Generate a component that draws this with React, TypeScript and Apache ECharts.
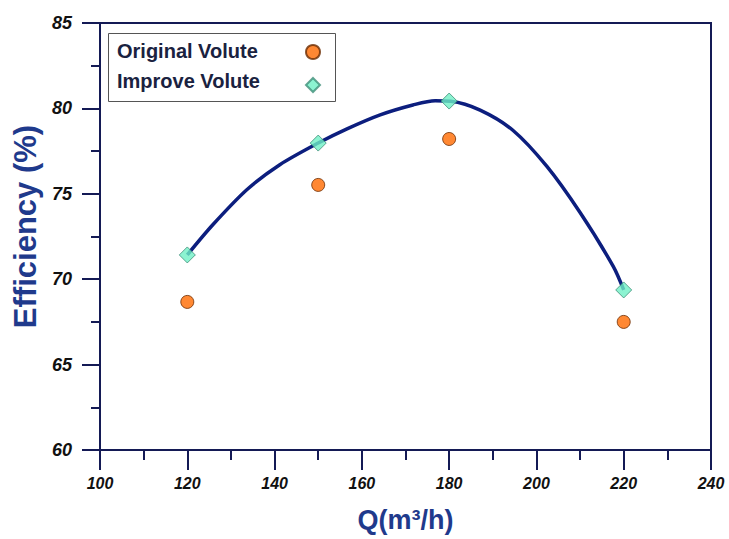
import React, { useEffect, useRef } from "react";
import * as echarts from "echarts";

const flowQ = [120, 150, 180, 220];
const originalEff = [68.67, 75.52, 78.21, 67.5];
const improveEff = [71.42, 77.97, 80.43, 69.37];
// fitted curve through Improve Volute
const curveQ = [120, 125.9, 133.7, 141.2, 150, 156.6, 164.2, 171.7, 176.8, 180.4, 187.1, 194.6, 202.4, 210, 217.6, 220];
const curveEff = [71.42, 73.2, 75.25, 76.7, 77.97, 78.8, 79.62, 80.2, 80.45, 80.42, 79.9, 78.72, 76.6, 73.9, 70.75, 69.37];
const seriesNames = ["Original Volute", "Improve Volute"];
const xTicks = { min: 100, max: 240, step: 20 };
const yTicks = { min: 60, max: 85, step: 5 };

const NAVY = "#141a55";
const NAME_BLUE = "#1f3a8c";

export default function App() {
  const ref = useRef<HTMLDivElement>(null);
  useEffect(() => {
    const chart = echarts.init(ref.current!, undefined, { renderer: "svg" });
    chart.setOption({
      animation: false,
      backgroundColor: "#ffffff",
      grid: {
        left: 100,
        right: 18,
        top: 23,
        bottom: 89,
        show: true,
        borderColor: NAVY,
        borderWidth: 2,
        backgroundColor: "transparent",
      },
      graphic: [
        {
          type: "rect",
          z: 3,
          shape: { x: 108.5, y: 33.5, width: 227, height: 68 },
          style: { fill: "#ffffff", stroke: "#555555", lineWidth: 1 },
        },
      ],
      legend: [
        {
          data: seriesNames,
          orient: "vertical",
          left: 111,
          top: 40,
          icon: "none",
          itemWidth: 1,
          itemHeight: 22,
          itemGap: 9,
          padding: 0,
          z: 6,
          textStyle: {
            fontFamily: "Liberation Sans, Arial, sans-serif",
            fontWeight: "bold",
            fontSize: 20,
            color: "#1a2240",
          },
        },
        {
          data: seriesNames,
          orient: "vertical",
          left: 305,
          top: 44,
          itemWidth: 14,
          itemHeight: 14,
          itemGap: 17,
          padding: 0,
          z: 6,
          formatter: () => "",
        },
      ],
      xAxis: {
        type: "value",
        min: xTicks.min,
        max: xTicks.max,
        interval: xTicks.step,
        name: "Q(m³/h)",
        nameLocation: "middle",
        nameGap: 56,
        nameTextStyle: {
          fontFamily: "Liberation Sans, Arial, sans-serif",
          fontWeight: "bold",
          fontSize: 27,
          color: NAME_BLUE,
        },
        axisLine: { show: true, lineStyle: { color: NAVY, width: 2 } },
        axisTick: { show: true, inside: false, length: 20, lineStyle: { color: NAVY, width: 2 } },
        minorTick: { show: true, splitNumber: 2, length: 10, lineStyle: { color: NAVY, width: 2 } },
        axisLabel: {
          margin: 25,
          fontFamily: "Liberation Sans Narrow, Arial Narrow, Liberation Sans, sans-serif",
          fontWeight: "bold",
          fontStyle: "italic",
          fontSize: 16,
          color: "#111111",
        },
        splitLine: { show: false },
      },
      yAxis: {
        type: "value",
        min: yTicks.min,
        max: yTicks.max,
        interval: yTicks.step,
        name: "Efficiency (%)",
        nameLocation: "middle",
        nameGap: 58,
        nameTextStyle: {
          fontFamily: "Liberation Sans, Arial, sans-serif",
          fontWeight: "bold",
          fontSize: 31,
          color: NAME_BLUE,
          padding: [0, 0, 0, 20],
        },
        axisLine: { show: true, lineStyle: { color: NAVY, width: 2 } },
        axisTick: { show: true, inside: false, length: 18, lineStyle: { color: NAVY, width: 2 } },
        minorTick: { show: true, splitNumber: 2, length: 9, lineStyle: { color: NAVY, width: 2 } },
        axisLabel: {
          margin: 28,
          fontFamily: "Liberation Sans, Arial, sans-serif",
          fontWeight: "bold",
          fontStyle: "italic",
          fontSize: 18,
          color: "#111111",
        },
        splitLine: { show: false },
      },
      series: [
        {
          name: "Fit",
          type: "line",
          data: curveQ.map((q, i) => [q, curveEff[i]]),
          smooth: 0.3,
          showSymbol: false,
          symbol: "none",
          lineStyle: { color: "#0c1e7e", width: 3.5 },
          z: 2,
        },
        {
          name: seriesNames[0],
          type: "scatter",
          data: flowQ.map((q, i) => [q, originalEff[i]]),
          symbol: "circle",
          symbolSize: 13,
          itemStyle: { color: "#ff6a00", borderColor: "#6a2a00", borderWidth: 1 },
          z: 3,
        },
        {
          name: seriesNames[1],
          type: "scatter",
          data: flowQ.map((q, i) => [q, improveEff[i]]),
          symbol: "diamond",
          symbolSize: 16,
          itemStyle: { color: "#6ff0c6", borderColor: "#3f8f78", borderWidth: 1 },
          z: 4,
        },
      ],
    });
    return () => chart.dispose();
  }, []);
  return <div ref={ref} style={{ width: 729, height: 539, position: "absolute", left: 0, top: 0 }} />;
}
